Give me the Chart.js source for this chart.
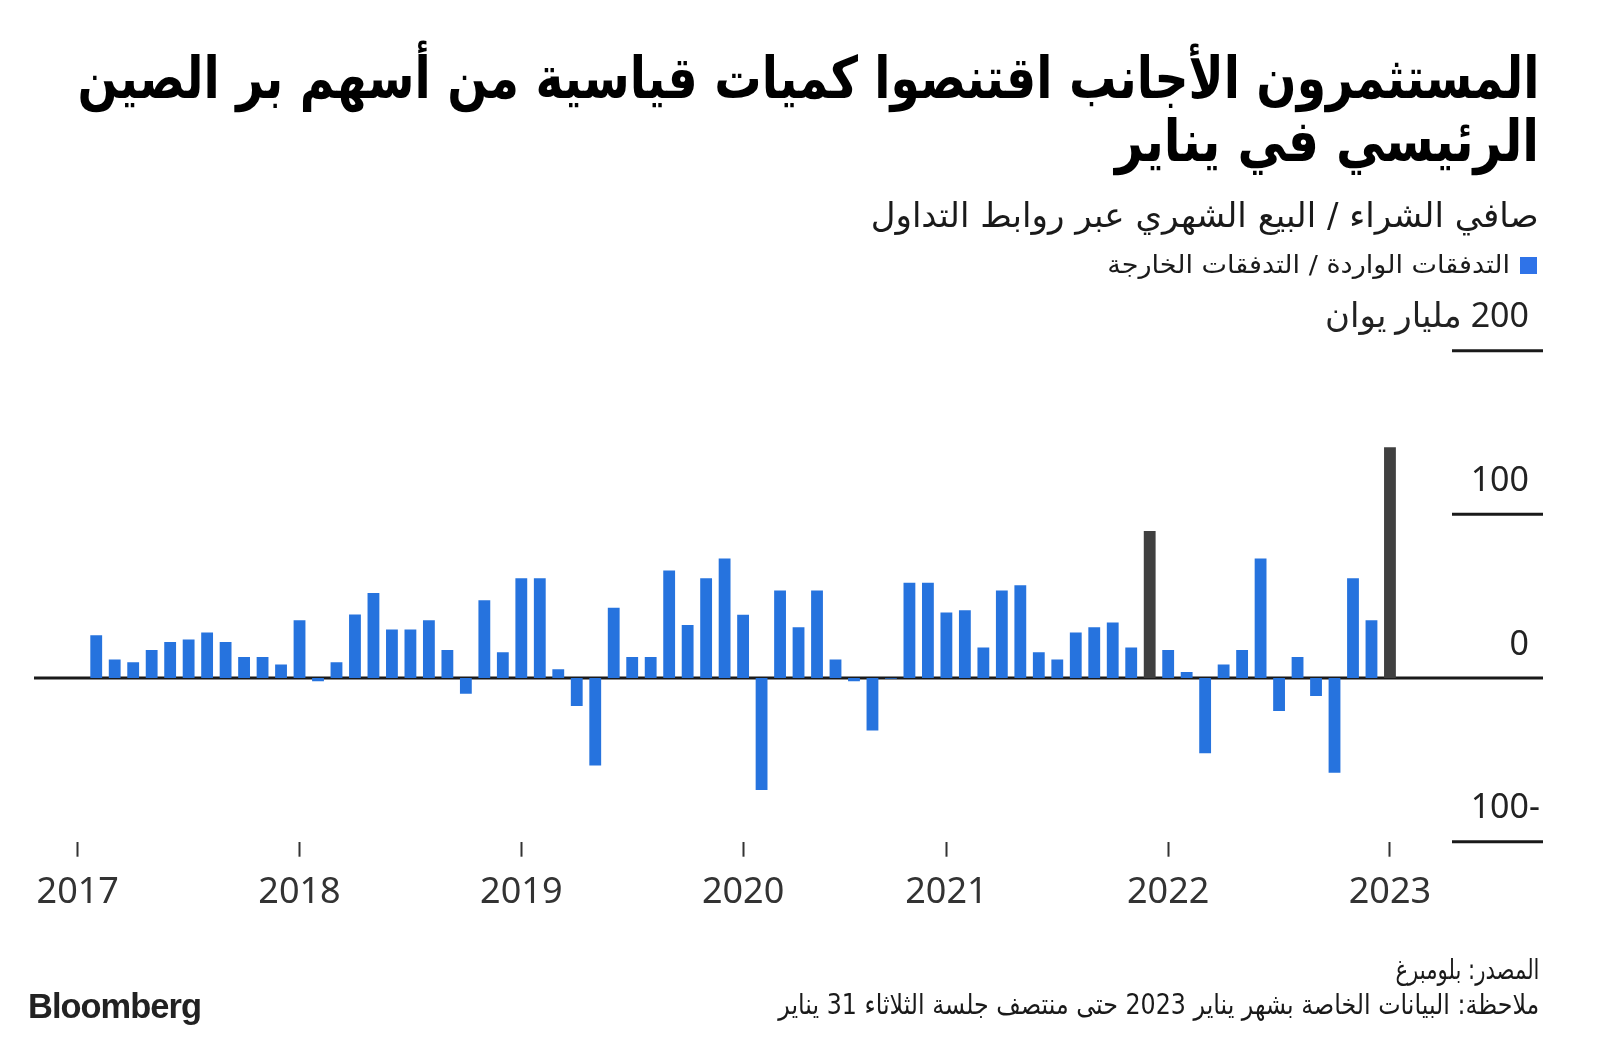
<!DOCTYPE html>
<html lang="ar">
<head>
<meta charset="utf-8">
<title>Northbound flows</title>
<script src="https://cdn.jsdelivr.net/npm/chart.js@4.4.1/dist/chart.umd.min.js"></script>
<style>
  html, body { margin: 0; padding: 0; background: #fff; }
  #page { position: relative; width: 1600px; height: 1040px; overflow: hidden; }
  #page canvas { position: absolute; left: 0; top: 0; }
  .txt { position: absolute; right: 61px; direction: rtl; white-space: nowrap;
         transform-origin: right center; font-family: 'DejaVu Sans', sans-serif; color: #111; }
  .title { font-size: 58px; line-height: 66px; font-weight: bold; color: #000; }
  .sub { font-size: 34px; line-height: 40px; color: #1a1a1a; }
  .legend { font-size: 25px; line-height: 28px; color: #1a1a1a; right: 90px; }
  .foot { font-size: 28px; line-height: 30px; color: #1a1a1a; }
  #legendBox { position: absolute; left: 1520px; top: 257px; width: 17px; height: 17px; background: #2f73e8; }
  #logo { position: absolute; left: 28px; top: 987px; font-family: 'Liberation Sans', Arial, sans-serif;
          font-weight: bold; font-size: 35px; line-height: 38px; color: #222; letter-spacing: -1px;
          transform-origin: left center; }
</style>
</head>
<body>
<div id="page">
  <canvas id="flowChart" width="1600" height="1040"></canvas>
  <div class="txt title" id="t1" style="top:45px">المستثمرون الأجانب اقتنصوا كميات قياسية من أسهم بر الصين</div>
  <div class="txt title" id="t2" style="top:108px">الرئيسي في يناير</div>
  <div class="txt sub" id="st" style="top:195px">صافي الشراء / البيع الشهري عبر روابط التداول</div>
  <div id="legendBox"></div>
  <div class="txt legend" id="lg" style="top:251px">التدفقات الواردة / التدفقات الخارجة</div>
  <div class="txt foot" id="src" style="top:955px">المصدر: بلومبرغ</div>
  <div class="txt foot" id="note" style="top:990px">ملاحظة: البيانات الخاصة بشهر يناير 2023 حتى منتصف جلسة الثلاثاء 31 يناير</div>
  <div id="logo">Bloomberg</div>
</div>
<script>
// month slots as plotted (no Feb 2020 slot in the source chart)
const months = [
  '2017-01','2017-02','2017-03','2017-04','2017-05','2017-06','2017-07','2017-08','2017-09','2017-10','2017-11','2017-12',
  '2018-01','2018-02','2018-03','2018-04','2018-05','2018-06','2018-07','2018-08','2018-09','2018-10','2018-11','2018-12',
  '2019-01','2019-02','2019-03','2019-04','2019-05','2019-06','2019-07','2019-08','2019-09','2019-10','2019-11','2019-12',
  '2020-01','2020-03','2020-04','2020-05','2020-06','2020-07','2020-08','2020-09','2020-10','2020-11','2020-12',
  '2021-01','2021-02','2021-03','2021-04','2021-05','2021-06','2021-07','2021-08','2021-09','2021-10','2021-11','2021-12',
  '2022-01','2022-02','2022-03','2022-04','2022-05','2022-06','2022-07','2022-08','2022-09','2022-10','2022-11','2022-12',
  '2023-01'
];

// net monthly buying (+) / selling (-), billion yuan
const netFlows = [
  null, 26.1, 11.4, 9.6, 17.1, 22.0, 23.5, 27.8, 22.0, 12.9, 12.9, 8.2,
  35.3, -2.0, 9.6, 38.8, 52.0, 29.6, 29.6, 35.3, 17.1, -9.6, 47.6, 15.7,
  61.0, 61.0, 5.3, -17.1, -53.5, 42.9, 12.9, 12.9, 65.7, 32.4, 61.0, 73.1,
  38.6, -68.4, 53.5, 31.0, 53.5, 11.4, -2.0, -32.0, -0.5, 58.2, 58.2,
  40.0, 41.4, 18.6, 53.5, 56.7, 15.7, 11.4, 27.8, 31.0, 33.9, 18.6, 89.8,
  17.1, 3.7, -45.9, 8.2, 17.1, 73.1, -20.2, 12.9, -11.0, -57.8, 61.0, 35.3,
  141.0
];

// record months drawn in dark grey
const highlightMonths = ['2021-12', '2023-01'];

const yTicks = [200, 100, 0, -100];
const unitLabel = 'مليار يوان';

const BLUE = '#2673de';
const DARK = '#404040';
const INK = '#1a1a1a';

// y labels, short grid lines and the zero line
const yAxisPlugin = {
  id: 'yAxisLabels',
  beforeDatasetsDraw(chart) {
    const ctx = chart.ctx;
    const y0 = chart.scales.y.getPixelForValue(0);
    ctx.save();
    ctx.strokeStyle = INK;
    ctx.lineWidth = 3;
    ctx.beginPath();
    ctx.moveTo(34, y0);
    ctx.lineTo(1543, y0);
    ctx.stroke();
    ctx.restore();
  },
  afterDraw(chart) {
    const ctx = chart.ctx;
    const ys = chart.scales.y;
    ctx.save();
    ctx.font = '34px "Noto Sans", "DejaVu Sans", sans-serif';
    ctx.fillStyle = '#222';
    ctx.textBaseline = 'middle';
    ctx.textAlign = 'right';
    ctx.direction = 'rtl';
    const minusW = ctx.measureText('-').width;
    yTicks.forEach((v, i) => {
      const y = ys.getPixelForValue(v);
      if (v !== 0) {
        ctx.strokeStyle = INK;
        ctx.lineWidth = 3;
        ctx.beginPath();
        ctx.moveTo(1452, y);
        ctx.lineTo(1543, y);
        ctx.stroke();
      }
      const text = i === 0 ? `${v} ${unitLabel}` : `${v}`;
      const x = v < 0 ? 1529 + minusW : 1529;
      ctx.fillText(text, x, y - 33);
    });
    ctx.restore();
  }
};

function loadChart() {
  const ctx = document.getElementById('flowChart');
  new Chart(ctx, {
    type: 'bar',
    data: {
      labels: months,
      datasets: [{
        label: 'التدفقات الواردة / التدفقات الخارجة',
        data: netFlows,
        backgroundColor: c => highlightMonths.includes(months[c.dataIndex]) ? DARK : BLUE,
        borderWidth: 0,
        barPercentage: 0.64,
        categoryPercentage: 1
      }]
    },
    options: {
      responsive: false,
      animation: false,
      layout: { padding: { left: 68.5, right: 200.8, top: 350.7, bottom: 98.3 } },
      plugins: { legend: { display: false }, tooltip: { enabled: false } },
      scales: {
        x: {
          offset: true,
          border: { display: false },
          grid: { display: true, drawOnChartArea: false, drawTicks: true, offset: false,
                  tickLength: 15, tickWidth: 2, tickColor: '#333' },
          afterBuildTicks: scale => {
            scale.ticks = months
              .map((m, i) => m.endsWith('-01') ? { value: i } : null)
              .filter(t => t);
          },
          afterFit: scale => { scale.height = 100; },
          ticks: {
            autoSkip: false,
            maxRotation: 0,
            padding: 14,
            color: '#333',
            font: { family: '"Noto Sans", sans-serif', size: 36 },
            callback: v => months[v].slice(0, 4)
          }
        },
        y: {
          display: false,
          min: -100,
          max: 200
        }
      }
    },
    plugins: [yAxisPlugin]
  });
}

// squeeze each text line to the width it takes in the source image
function fitWidth(id, w) {
  const el = document.getElementById(id);
  const r = el.getBoundingClientRect().width;
  el.style.transform = `scaleX(${w / r})`;
}

window.addEventListener('DOMContentLoaded', () => {
  loadChart();
  fitWidth('t1', 1462);
  fitWidth('t2', 424);
  fitWidth('st', 668);
  fitWidth('lg', 403);
  fitWidth('src', 144);
  fitWidth('note', 761);
  fitWidth('logo', 173);
});
</script>
</body>
</html>
